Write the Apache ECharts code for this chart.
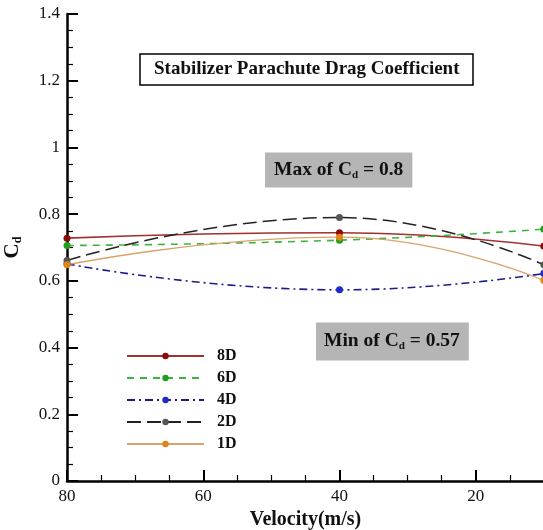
<!DOCTYPE html>
<html>
<head>
<meta charset="utf-8">
<script src="https://cdn.jsdelivr.net/npm/echarts@6/dist/echarts.min.js"></script>
<style>
  html, body { margin: 0; padding: 0; background: #fff; }
  #chart { width: 543px; height: 530px; }
</style>
</head>
<body>
<div id="chart"></div>
<script>
// velocity (m/s) and drag coefficient per stabilizer position
const velocity = [80, 40, 10];
const seriesNames = ['8D', '6D', '4D', '2D', '1D'];
const cd8D = [0.728, 0.744, 0.704];
const cd6D = [0.706, 0.722, 0.755];
const cd4D = [0.651, 0.573, 0.622];
const cd2D = [0.661, 0.790, 0.648];
const cd1D = [0.648, 0.731, 0.601];
const xTicks = [0, 80, 20];   // min, max, interval
const yTicks = [0, 1.4, 0.2];

const serif = '"Liberation Serif", "Times New Roman", serif';

var myChart = echarts.init(document.getElementById('chart'));

function pairs(ys) {
  return velocity.map((v, i) => [v, ys[i]]);
}

function makeSeries(name, ys, lineColor, markColor, dash, width) {
  return {
    name: name,
    type: 'line',
    data: pairs(ys),
    smooth: 0.5,
    symbol: 'circle',
    symbolSize: 7,
    clip: true,
    lineStyle: { color: lineColor, width: width, type: dash },
    itemStyle: { color: markColor }
  };
}

const subRich = {
  t: { fontFamily: serif, fontWeight: 'bold', fontSize: 19.5, color: '#111', lineHeight: 22 },
  s: { fontFamily: serif, fontWeight: 'bold', fontSize: 11, color: '#111', lineHeight: 22, padding: [10, 0, 0, 0] }
};

const option = {
  animation: false,
  backgroundColor: '#fff',
  title: [
    {
      text: 'Stabilizer Parachute Drag Coefficient',
      left: 140, top: 54,
      padding: [6, 14, 6, 14],
      borderColor: '#000', borderWidth: 1.5, backgroundColor: '#fff',
      textStyle: { fontFamily: serif, fontWeight: 'bold', fontSize: 19, color: '#111' }
    },
    {
      text: '{t|Max of C}{s|d}{t| = 0.8}',
      left: 265, top: 152,
      padding: [7, 9, 7, 9],
      backgroundColor: '#b5b5b5',
      textStyle: { rich: subRich }
    },
    {
      text: '{t|Min of C}{s|d}{t| = 0.57}',
      left: 316, top: 322,
      padding: [8, 9, 9, 8],
      backgroundColor: '#b5b5b5',
      textStyle: { rich: subRich }
    }
  ],
  legend: {
    orient: 'vertical',
    left: 121, top: 343,
    itemWidth: 77, itemHeight: 8, itemGap: 6,
    data: seriesNames,
    textStyle: { fontFamily: serif, fontWeight: 'bold', fontSize: 16, color: '#111', padding: [0, 0, 0, 8] }
  },
  // the grid runs past the right edge so that the axis reaches 0 off-canvas
  grid: { left: 67, top: 14, width: 545, height: 467, outerBoundsMode: 'none' },
  xAxis: {
    type: 'value', inverse: true,
    min: xTicks[0], max: xTicks[1], interval: xTicks[2],
    name: 'Velocity(m/s)', nameLocation: 'middle', nameGap: 25,
    nameTextStyle: { fontFamily: serif, fontWeight: 'bold', fontSize: 20, color: '#111',
      padding: [0, 68, 0, 0] },
    axisLine: { onZero: false, lineStyle: { color: '#000', width: 2.5 } },
    axisTick: { inside: true, length: 11, lineStyle: { color: '#000', width: 2 } },
    minorTick: { show: true, splitNumber: 4, length: 6, lineStyle: { color: '#000', width: 1.2 } },
    axisLabel: { fontFamily: serif, fontSize: 17, color: '#111', margin: 7 },
    splitLine: { show: false }
  },
  yAxis: {
    type: 'value',
    min: yTicks[0], max: yTicks[1], interval: yTicks[2],
    name: '{t|C}{s|d}', nameLocation: 'middle', nameGap: 42, nameRotate: 90,
    nameTextStyle: {
      rich: {
        t: { fontFamily: serif, fontWeight: 'bold', fontSize: 21, color: '#111', lineHeight: 24 },
        s: { fontFamily: serif, fontWeight: 'bold', fontSize: 12, color: '#111', lineHeight: 24, padding: [10, 0, 0, 0] }
      }
    },
    axisLine: { onZero: false, lineStyle: { color: '#000', width: 2.5 } },
    axisTick: { inside: true, length: 11, lineStyle: { color: '#000', width: 2 } },
    minorTick: { show: true, splitNumber: 4, length: 6, lineStyle: { color: '#000', width: 1.2 } },
    axisLabel: { fontFamily: serif, fontSize: 17, color: '#111', margin: 7 },
    splitLine: { show: false }
  },
  series: [
    makeSeries('8D', cd8D, '#a3302e', '#8b0a0a', 'solid', 1.6),
    makeSeries('6D', cd6D, '#3cb43c', '#1ea01e', [7, 6], 1.6),
    makeSeries('4D', cd4D, '#1c1c8c', '#1e2ad0', [8, 4, 2, 4], 1.6),
    makeSeries('2D', cd2D, '#222', '#555', [14, 6], 1.5),
    makeSeries('1D', cd1D, '#d9a36c', '#e0841a', 'solid', 1.3)
  ]
};
myChart.setOption(option);
</script>
</body>
</html>
